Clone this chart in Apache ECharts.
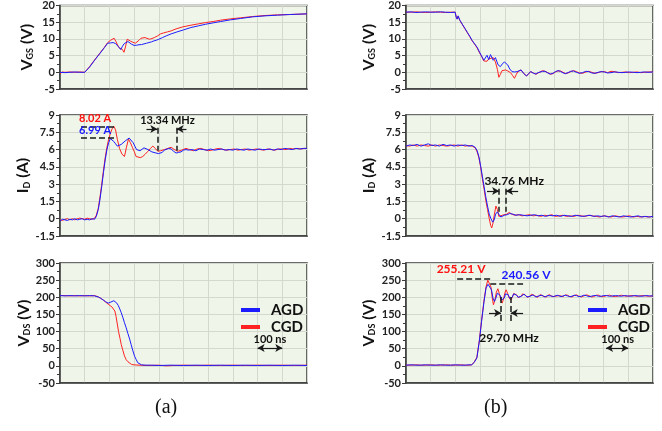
<!DOCTYPE html>
<html><head><meta charset="utf-8">
<script src="https://cdn.jsdelivr.net/npm/echarts@6/dist/echarts.min.js"></script>
<style>html,body{margin:0;padding:0;background:#fff}#c{width:662px;height:431px}</style>
</head><body><div id="c"></div>
<script>
// ---- tick/axis settings (values) ----
const vgsTicks = {min:-5, max:20, interval:5, center:10};
const idTicks  = {min:-1.5, max:9, interval:1.5, center:3};
const vdsTicks = {min:-50, max:300, interval:50, center:100};
const timeAxis = {min:0, max:1000, interval:100, center:500}; // ns, 100 ns/div
const seriesNames = ['AGD','CGD'];
const panelLabels = ['(a)','(b)'];

// ---- (a) turn-on : VGS ----
const onVgsAGD = [[0,0.0],[20,-0.1],[40,0.0],[60,0.1],[80,0.0],[100,0.0],[106,0.2],[120,1.6],[140,3.6],[160,5.5],[180,7.4],[193,8.7],[205,8.8],[215,8.9],[225,8.6],[233,8.25],[240,7.4],[246,6.8],[253,7.8],[260,8.6],[267,8.9],[275,9.2],[282,8.9],[290,8.4],[300,8.05],[310,8.1],[320,8.25],[330,8.3],[340,8.5],[350,8.7],[360,8.9],[370,9.1],[380,9.4],[390,9.6],[400,9.9],[415,10.4],[430,10.9],[450,11.5],[470,12.0],[500,12.7],[530,13.4],[560,13.9],[590,14.4],[620,14.8],[650,15.2],[690,15.7],[730,16.1],[780,16.6],[830,16.9],[880,17.1],[930,17.3],[1000,17.5]];
const onVgsCGD = [[0,-0.4],[10,0.1],[20,0.0],[40,0.1],[60,0.0],[80,0.1],[100,0.0],[106,0.3],[120,1.7],[140,3.7],[160,5.6],[180,7.5],[193,8.9],[205,9.6],[212,10.1],[219,10.2],[226,9.3],[233,8.2],[240,7.3],[246,7.6],[252,6.9],[259,6.0],[265,7.6],[272,9.9],[279,9.6],[286,9.3],[295,9.0],[305,8.7],[313,9.0],[320,9.6],[328,10.2],[336,10.7],[344,10.4],[352,10.0],[362,9.9],[372,10.1],[382,10.4],[395,10.9],[407,11.5],[420,11.8],[435,12.1],[450,12.4],[470,13.0],[497,13.6],[530,14.1],[560,14.5],[590,14.9],[620,15.2],[650,15.6],[690,16.0],[730,16.3],[780,16.7],[830,17.0],[880,17.2],[930,17.3],[1000,17.5]];
// ---- (a) turn-on : ID ----
const onIdAGD = [[0,-0.2],[10,-0.05],[20,-0.1],[30,-0.15],[40,-0.05],[50,-0.1],[60,0.0],[70,-0.1],[80,-0.05],[90,0.0],[100,-0.1],[110,-0.05],[120,-0.1],[130,0.0],[140,-0.05],[147,0.2],[155,0.8],[162,1.7],[169,2.8],[176,4.0],[183,5.1],[190,6.0],[197,6.6],[204,6.95],[211,6.85],[218,6.7],[225,6.5],[232,6.3],[240,6.4],[248,6.45],[256,6.6],[264,6.75],[272,6.9],[280,7.0],[288,6.9],[296,6.6],[303,6.3],[310,6.0],[316,5.85],[324,5.9],[332,6.0],[340,6.15],[348,6.2],[356,6.0],[364,5.85],[372,5.8],[380,5.75],[389,5.7],[398,5.65],[406,5.6],[414,5.75],[422,5.95],[430,6.0],[440,6.1],[450,6.05],[460,5.85],[470,5.7],[480,5.75],[490,5.8],[500,5.95],[510,6.0],[520,5.95],[535,6.0],[550,5.9],[565,6.05],[580,6.0],[595,5.95],[610,6.05],[625,5.95],[640,6.0],[655,6.05],[670,5.95],[685,6.0],[700,5.95],[715,6.05],[730,6.0],[745,5.95],[760,6.05],[775,6.0],[790,5.95],[805,6.05],[820,6.0],[835,6.0],[850,6.05],[865,5.95],[880,6.05],[895,6.0],[910,6.1],[925,6.05],[940,6.0],[955,6.1],[970,6.05],[985,6.1],[1000,6.1]];
const onIdCGD = [[0,-0.1],[10,-0.15],[20,-0.05],[30,0.0],[40,-0.1],[50,0.0],[60,-0.1],[70,0.0],[80,0.05],[90,0.0],[100,-0.05],[110,0.05],[120,0.0],[130,-0.05],[140,0.05],[147,0.3],[155,0.9],[162,1.9],[169,3.0],[176,4.2],[183,5.3],[190,6.2],[197,6.9],[204,7.4],[211,7.8],[218,8.02],[225,7.7],[232,6.9],[241,6.1],[251,5.6],[261,5.4],[269,6.2],[277,6.9],[285,6.6],[293,6.2],[301,5.8],[308,5.4],[315,5.3],[325,5.3],[335,5.4],[345,5.6],[356,5.85],[366,6.1],[376,6.3],[386,6.1],[396,5.85],[408,5.9],[423,6.0],[437,6.1],[450,6.2],[463,6.0],[477,5.85],[492,5.95],[510,6.1],[525,6.0],[540,5.9],[555,6.05],[570,6.1],[585,6.0],[600,5.9],[615,5.95],[630,6.05],[645,6.1],[660,6.0],[675,5.95],[690,6.0],[705,6.05],[720,5.95],[735,6.0],[750,6.05],[765,5.95],[780,6.0],[795,6.05],[810,6.0],[825,5.95],[840,6.05],[855,6.0],[870,5.95],[885,6.05],[900,6.05],[915,6.0],[930,6.1],[945,6.05],[960,6.1],[975,6.05],[990,6.1],[1000,6.1]];
// ---- (a) turn-on : VDS ----
const onVdsAGD = [[0,205],[20,204],[40,205],[60,204],[80,205],[100,204],[120,205],[140,204],[148,204],[155,201],[165,197],[175,192],[185,187],[195,183],[200,181],[206,186],[212,189],[218,190],[224,188],[230,183],[236,176],[242,166],[248,155],[255,140],[261,126],[268,111],[275,94],[282,78],[288,62],[295,44],[302,28],[308,19],[315,9],[322,4],[330,3],[345,2],[370,2],[400,1],[450,2],[500,1],[550,2],[600,1],[650,2],[700,1],[750,2],[800,1],[850,2],[900,1],[950,2],[1000,1]];
const onVdsCGD = [[0,205],[20,205],[40,204],[60,205],[80,204],[100,205],[120,204],[140,205],[148,204],[155,201],[165,197],[175,192],[185,186],[195,180],[200,178],[210,172],[218,168],[222,160],[227,144],[232,122],[237,100],[243,80],[248,62],[255,44],[261,29],[268,18],[275,12],[282,7],[290,4],[300,3],[320,2],[360,1],[400,2],[430,0],[460,1],[500,2],[550,1],[600,2],[650,1],[700,2],[750,1],[800,2],[850,1],[900,2],[950,1],[1000,2]];

// ---- (b) turn-off : VGS ----
const offVgsAGD = [[0,18.0],[20,18.1],[40,17.9],[60,18.0],[80,18.1],[100,18.0],[120,18.0],[140,18.1],[160,18.0],[180,17.9],[199,18.0],[203,16.5],[207,15.9],[211,16.9],[218,15.6],[228,14.4],[238,13.2],[248,12.0],[258,10.8],[268,9.5],[278,8.5],[288,7.5],[298,6.0],[308,4.6],[315,3.6],[321,3.3],[328,5.1],[335,3.8],[342,5.3],[353,3.6],[362,4.4],[373,2.2],[382,1.7],[390,2.5],[398,3.1],[405,2.8],[412,2.2],[420,1.0],[429,0.2],[440,0.1],[450,0.2],[458,0.6],[466,0.7],[477,-0.4],[488,-1.1],[496,-0.4],[505,0.2],[516,-0.3],[526,-0.5],[535,-0.1],[543,0.2],[553,0.3],[563,0.3],[574,-0.2],[584,-0.5],[595,-0.3],[605,0.2],[615,0.5],[625,0.3],[636,-0.2],[646,-0.4],[656,-0.1],[667,0.3],[678,0.4],[690,0.0],[702,-0.3],[715,-0.1],[728,0.3],[740,0.2],[752,-0.2],[765,-0.3],[778,0.0],[790,0.2],[803,0.1],[816,-0.2],[830,-0.1],[845,0.1],[860,0.0],[875,-0.1],[890,0.0],[905,0.1],[920,0.0],[935,-0.1],[950,0.0],[965,0.1],[980,0.0],[1000,0.1]];
const offVgsCGD = [[0,18.0],[20,18.0],[40,18.1],[60,18.0],[80,17.9],[100,18.0],[120,18.1],[140,18.0],[160,17.9],[180,18.0],[199,18.0],[203,16.8],[207,16.0],[211,16.8],[218,15.5],[228,14.3],[238,13.1],[248,11.9],[258,10.7],[268,9.4],[278,8.4],[288,7.3],[298,5.8],[308,4.5],[315,3.4],[321,3.1],[328,3.3],[335,4.0],[342,4.2],[353,4.4],[362,3.1],[370,0.9],[376,-1.5],[382,-0.6],[389,0.5],[396,0.6],[403,0.7],[412,0.4],[423,-0.1],[432,-1.0],[439,-1.8],[447,-0.6],[453,0.2],[460,0.6],[466,0.7],[477,-0.4],[488,-1.1],[496,-0.5],[505,0.2],[516,-0.2],[526,-0.6],[535,-0.2],[543,0.3],[553,0.5],[563,0.3],[574,-0.1],[584,-0.6],[595,-0.4],[605,0.1],[615,0.4],[625,0.4],[636,0.0],[646,-0.4],[656,-0.2],[667,0.2],[678,0.5],[690,0.2],[702,-0.2],[715,-0.3],[728,0.1],[740,0.3],[752,0.0],[765,-0.3],[778,-0.1],[790,0.2],[803,0.2],[816,-0.1],[830,0.3],[845,0.2],[860,-0.1],[875,0.0],[890,0.1],[905,-0.1],[920,0.0],[935,0.1],[950,-0.1],[965,0.0],[980,0.1],[1000,0.1]];
// ---- (b) turn-off : ID ----
const offIdAGD = [[0,6.3],[15,6.4],[30,6.35],[45,6.45],[60,6.3],[75,6.4],[90,6.5],[105,6.35],[120,6.4],[135,6.3],[150,6.45],[165,6.35],[180,6.4],[195,6.3],[210,6.4],[225,6.35],[240,6.4],[255,6.3],[268,6.35],[280,6.2],[288,5.9],[295,5.4],[302,4.6],[309,3.7],[316,2.8],[323,1.9],[330,1.1],[337,0.4],[344,0.0],[351,-0.3],[357,-0.1],[363,0.4],[370,0.6],[377,0.35],[384,0.15],[391,0.2],[398,0.3],[410,0.35],[420,0.45],[432,0.4],[445,0.3],[460,0.35],[475,0.3],[490,0.25],[505,0.3],[520,0.35],[535,0.25],[550,0.3],[565,0.2],[580,0.3],[595,0.25],[610,0.3],[625,0.2],[640,0.3],[655,0.25],[670,0.2],[685,0.3],[700,0.25],[715,0.2],[730,0.25],[745,0.3],[760,0.2],[775,0.25],[790,0.2],[805,0.25],[820,0.15],[835,0.25],[850,0.2],[865,0.15],[880,0.25],[895,0.2],[910,0.15],[925,0.2],[940,0.25],[955,0.15],[970,0.2],[985,0.15],[1000,0.2]];
const offIdCGD = [[0,6.35],[15,6.3],[30,6.4],[45,6.3],[60,6.4],[75,6.35],[90,6.3],[105,6.4],[120,6.3],[135,6.4],[150,6.35],[165,6.3],[180,6.35],[195,6.4],[210,6.3],[225,6.4],[240,6.3],[255,6.35],[268,6.3],[280,6.15],[288,5.8],[295,5.3],[302,4.5],[309,3.5],[316,2.6],[323,1.6],[330,0.8],[337,0.0],[343,-0.6],[347,-0.8],[352,-0.4],[358,0.4],[364,1.1],[370,0.8],[376,0.2],[382,0.1],[390,0.3],[398,0.35],[408,0.4],[418,0.55],[428,0.4],[440,0.3],[455,0.35],[470,0.25],[485,0.3],[500,0.35],[515,0.25],[530,0.3],[545,0.2],[560,0.3],[575,0.25],[590,0.35],[605,0.2],[620,0.25],[635,0.3],[650,0.2],[665,0.25],[680,0.2],[695,0.3],[710,0.25],[725,0.2],[740,0.3],[755,0.25],[770,0.2],[785,0.15],[800,0.25],[815,0.2],[830,0.15],[845,0.25],[860,0.2],[875,0.15],[890,0.2],[905,0.25],[920,0.15],[935,0.2],[950,0.15],[965,0.2],[980,0.15],[1000,0.2]];
// ---- (b) turn-off : VDS ----
const offVdsAGD = [[0,2],[20,3],[40,2],[60,2],[80,3],[100,2],[120,2],[140,3],[160,2],[180,2],[200,3],[220,2],[240,2],[255,3],[266,3],[276,10],[287,23],[297,72],[306,130],[316,188],[324,227],[332,238],[340,241],[346,222],[352,198],[358,188],[364,198],[370,212],[376,217],[382,205],[387,192],[392,188],[398,198],[403,210],[408,215],[414,207],[420,197],[424,193],[430,200],[436,210],[442,212],[448,206],[454,200],[460,198],[466,203],[472,208],[478,209],[484,205],[490,201],[496,200],[502,203],[508,207],[514,207],[520,204],[526,201],[532,201],[538,204],[544,207],[550,206],[556,203],[562,201],[568,202],[574,205],[580,206],[586,204],[592,202],[598,202],[604,205],[612,206],[620,203],[628,202],[636,204],[645,206],[654,204],[663,202],[672,203],[681,206],[690,205],[700,202],[710,203],[720,206],[730,205],[740,202],[750,203],[760,205],[770,205],[780,203],[790,203],[800,205],[812,205],[824,203],[836,204],[848,205],[860,204],[872,203],[884,205],[896,204],[910,203],[925,205],[940,204],[955,203],[970,205],[985,204],[1000,204]];
const offVdsCGD = [[0,2],[20,2],[40,3],[60,2],[80,2],[100,3],[120,2],[140,2],[160,3],[180,2],[200,2],[220,3],[240,2],[255,2],[266,3],[276,11],[287,25],[297,75],[306,133],[316,192],[324,230],[331,250],[338,255],[344,230],[349,200],[354,178],[360,192],[366,215],[372,225],[378,210],[384,192],[389,183],[395,195],[400,212],[405,222],[411,212],[418,198],[424,192],[430,199],[436,211],[442,214],[448,207],[454,199],[460,197],[466,203],[472,210],[478,211],[484,206],[490,200],[496,199],[502,203],[508,209],[514,209],[520,205],[526,200],[532,200],[538,204],[544,208],[550,207],[556,203],[562,200],[568,201],[574,205],[580,208],[586,206],[592,202],[598,200],[604,203],[612,207],[620,205],[628,201],[636,202],[645,207],[654,206],[663,202],[672,201],[681,205],[690,207],[700,203],[710,201],[720,204],[730,207],[740,205],[750,201],[760,202],[770,206],[780,206],[790,202],[800,202],[812,205],[824,206],[836,203],[848,202],[860,204],[872,206],[884,204],[896,203],[910,205],[925,204],[940,203],[955,205],[970,204],[985,203],[1000,204]];

// ---- annotation values (data coordinates) ----
const annOnId = {peakCGD:8.02, peakAGD:6.99, lineFrom:85, lineToCGD:230, lineToAGD:220, freqText:'13.34 MHz', freqX:[394,472], freqY:[7.9,5.9], arrowY:7.78, arrowOut:[350,512], cgdTextY:8.7, agdTextY:7.64, peakTextX:142, freqTextX:435, freqTextY:8.55};
const annOffId = {freqText:'34.76 MHz', freqX:[377,405], freqY:[2.6,0.6], arrowY:2.4, arrowOut:[328,454], textX:438, textY:3.3};
const annOffVds = {peakCGD:255.21, peakAGD:240.56, cgdLine:[207,341], agdLine:[341,474], cgdText:[223,282], agdText:[486,264], freqText:'29.70 MHz', freqX:[385,424], freqY:[201,125], arrowY:154, arrowOut:[336,474], textX:417, textY:81};
const scaleBar = {from:800, to:900, y:52, textY:78, text:'100 ns'};

const BLUE = '#1c1cff', RED = '#ff2222';
const FONT = 'Lato';

const grids = [
  {left:60, width:247, top:5, height:84},
  {left:60, width:247, top:115, height:121},
  {left:60, width:247, top:263, height:120},
  {left:406, width:247, top:5, height:84},
  {left:406, width:247, top:115, height:121},
  {left:406, width:247, top:263, height:120}
].map(g => Object.assign(g, {show:true, backgroundColor:'#eff5e9', borderColor:'#3a3a3a', borderWidth:1.5}));

const xAxes = grids.map((g,i) => ({
  type:'value', gridIndex:i, min:timeAxis.min, max:timeAxis.max, interval:timeAxis.interval,
  axisLabel:{show:false}, axisTick:{show:false},
  axisLine:{show:true, onZero:false, lineStyle:{color:'#3a3a3a', width:1.5}},
  splitLine:{show:true, lineStyle:{color:'#d3d9cf', width:1}}
}));

const yNames = [
  '{a|V}{b|GS}{a| (V)}', '{a|I}{b|D}{a| (A)}', '{a|V}{b|DS}{a| (V)}'
];
const yTicks = [vgsTicks, idTicks, vdsTicks];
const yAxes = grids.map((g,i) => {
  const r = i % 3, t = yTicks[r];
  return {
    type:'value', gridIndex:i, min:t.min, max:t.max, interval:t.interval,
    name: yNames[r], nameLocation:'middle', nameRotate:90, nameGap: i < 3 ? 25 : 29,
    nameTextStyle:{rich:{
      a:{fontSize:16, fontWeight:'bold', fontFamily:FONT, color:'#111'},
      b:{fontSize:9, fontWeight:'bold', fontFamily:FONT, color:'#111', padding:[8,0,0,0]}
    }},
    axisLine:{show:true, onZero:false, lineStyle:{color:'#3a3a3a', width:1.5}},
    axisTick:{show:true, length:4, lineStyle:{color:'#3a3a3a'}},
    minorTick:{show:true, splitNumber:2, length:3, lineStyle:{color:'#3a3a3a'}},
    axisLabel:{fontSize:11, fontWeight:'bold', fontFamily:FONT, color:'#222', margin:5},
    splitLine:{show:true, lineStyle:{color:'#d3d9cf', width:1}}
  };
});

const dotted = {type:'dotted', color:'#8c8c8c', width:1};
const dashed = {type:'dashed', color:'#1a1a1a', width:1.5};
const solidBlk = {type:'solid', color:'#1a1a1a', width:1.2};
function centerLines(yc){ return [[{xAxis:timeAxis.center, lineStyle:dotted, symbol:'none'},{xAxis:timeAxis.center, symbol:'none'}]]
  .concat([[{yAxis:yc, lineStyle:dotted, symbol:'none'},{yAxis:yc, symbol:'none'}]]); }
function seg(x1,y1,x2,y2,style){ return [{coord:[x1,y1], lineStyle:style, symbol:'none'},{coord:[x2,y2], symbol:'none'}]; }
function arrow(x1,x2,y){ return [{coord:[x1,y], lineStyle:solidBlk, symbol:'none'},{coord:[x2,y], symbol:'arrow', symbolSize:[6,7]}]; }
function dblArrow(x1,x2,y){ return [{coord:[x1,y], lineStyle:solidBlk, symbol:'arrow', symbolSize:[6,7]},{coord:[x2,y], symbol:'arrow', symbolSize:[6,7]}]; }
function txt(x,y,text,color,size){ return {coord:[x,y], symbol:'rect', symbolSize:[1,1], itemStyle:{color:'rgba(0,0,0,0)'},
  label:{show:true, position:'inside', formatter:text, color:color, fontSize:size||11, fontWeight:'bold', fontFamily:FONT}}; }

function line(name, data, color, i, extra){
  return Object.assign({type:'line', name:name, xAxisIndex:i, yAxisIndex:i, data:data,
    showSymbol:false, symbol:'none', animation:false, clip:true,
    lineStyle:{width:1, color:color}, itemStyle:{color:color}}, extra||{});
}
function marks(lines, points){
  const o = {markLine:{silent:true, animation:false, symbol:'none', label:{show:false}, data:lines}};
  if (points) o.markPoint = {silent:true, animation:false, data:points};
  return o;
}

const series = [
  // (a) VGS
  line('CGD', onVgsCGD, RED, 0, marks(centerLines(vgsTicks.center))),
  line('AGD', onVgsAGD, BLUE, 0),
  // (a) ID
  line('CGD', onIdCGD, RED, 1, marks(centerLines(idTicks.center).concat([
      seg(annOnId.lineFrom, annOnId.peakCGD, annOnId.lineToCGD, annOnId.peakCGD, dashed),
      seg(annOnId.lineFrom, annOnId.peakAGD, annOnId.lineToAGD, annOnId.peakAGD, dashed),
      seg(annOnId.freqX[0], annOnId.freqY[0], annOnId.freqX[0], annOnId.freqY[1], dashed),
      seg(annOnId.freqX[1], annOnId.freqY[0], annOnId.freqX[1], annOnId.freqY[1], dashed),
      arrow(annOnId.arrowOut[0], annOnId.freqX[0], annOnId.arrowY),
      arrow(annOnId.arrowOut[1], annOnId.freqX[1], annOnId.arrowY)
    ]), [
      txt(annOnId.peakTextX, annOnId.cgdTextY, annOnId.peakCGD.toFixed(2)+' A', '#ff1111', 11),
      txt(annOnId.peakTextX, annOnId.agdTextY, annOnId.peakAGD.toFixed(2)+' A', '#1a1aff', 11),
      txt(annOnId.freqTextX, annOnId.freqTextY, annOnId.freqText, '#111', 11)
    ])),
  line('AGD', onIdAGD, BLUE, 1),
  // (a) VDS
  line('CGD', onVdsCGD, RED, 2, marks(centerLines(vdsTicks.center).concat([
      dblArrow(scaleBar.from, scaleBar.to, scaleBar.y)
    ]), [ txt((scaleBar.from+scaleBar.to)/2, scaleBar.textY, scaleBar.text, '#111', 11) ])),
  line('AGD', onVdsAGD, BLUE, 2),
  // (b) VGS
  line('CGD', offVgsCGD, RED, 3, marks(centerLines(vgsTicks.center))),
  line('AGD', offVgsAGD, BLUE, 3),
  // (b) ID
  line('CGD', offIdCGD, RED, 4, marks(centerLines(idTicks.center).concat([
      seg(annOffId.freqX[0], annOffId.freqY[0], annOffId.freqX[0], annOffId.freqY[1], dashed),
      seg(annOffId.freqX[1], annOffId.freqY[0], annOffId.freqX[1], annOffId.freqY[1], dashed),
      arrow(annOffId.arrowOut[0], annOffId.freqX[0], annOffId.arrowY),
      arrow(annOffId.arrowOut[1], annOffId.freqX[1], annOffId.arrowY)
    ]), [ txt(annOffId.textX, annOffId.textY, annOffId.freqText, '#111', 12) ])),
  line('AGD', offIdAGD, BLUE, 4),
  // (b) VDS
  line('CGD', offVdsCGD, RED, 5, marks(centerLines(vdsTicks.center).concat([
      seg(annOffVds.cgdLine[0], annOffVds.peakCGD, annOffVds.cgdLine[1], annOffVds.peakCGD, dashed),
      seg(annOffVds.agdLine[0], annOffVds.peakAGD, annOffVds.agdLine[1], annOffVds.peakAGD, dashed),
      seg(annOffVds.freqX[0], annOffVds.freqY[0], annOffVds.freqX[0], annOffVds.freqY[1], dashed),
      seg(annOffVds.freqX[1], annOffVds.freqY[0], annOffVds.freqX[1], annOffVds.freqY[1], dashed),
      arrow(annOffVds.arrowOut[0], annOffVds.freqX[0], annOffVds.arrowY),
      arrow(annOffVds.arrowOut[1], annOffVds.freqX[1], annOffVds.arrowY),
      dblArrow(scaleBar.from+10, scaleBar.to, scaleBar.y)
    ]), [
      txt(annOffVds.cgdText[0], annOffVds.cgdText[1], annOffVds.peakCGD.toFixed(2)+' V', '#ff1111', 12),
      txt(annOffVds.agdText[0], annOffVds.agdText[1], annOffVds.peakAGD.toFixed(2)+' V', '#1a1aff', 12),
      txt(annOffVds.textX, annOffVds.textY, annOffVds.freqText, '#111', 12),
      txt(857, scaleBar.textY, scaleBar.text, '#111', 11)
    ])),
  line('AGD', offVdsAGD, BLUE, 5)
];

const legendCommon = {orient:'vertical', data:seriesNames, icon:'rect', itemWidth:19, itemHeight:4, itemGap:1,
  textStyle:{fontSize:15, fontWeight:'bold', fontFamily:FONT, color:'#111', lineHeight:16, padding:[0,0,0,6]}, selectedMode:false};

const chart = echarts.init(document.getElementById('c'), null, {renderer:'canvas'});
chart.setOption({
  backgroundColor:'#ffffff',
  animation:false,
  grid:grids, xAxis:xAxes, yAxis:yAxes, series:series,
  legend:[Object.assign({left:236, top:297}, legendCommon), Object.assign({left:583, top:297}, legendCommon)],
  graphic:[
    {type:'text', left:155, top:398, style:{text:panelLabels[0], font:'20px "Liberation Serif"', fill:'#111'}},
    {type:'text', left:484, top:398, style:{text:panelLabels[1], font:'20px "Liberation Serif"', fill:'#111'}}
  ]
});
</script></body></html>
